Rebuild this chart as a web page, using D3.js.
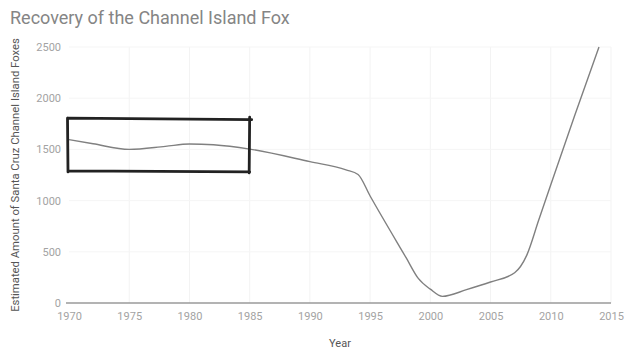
<!DOCTYPE html>
<html>
<head>
<meta charset="utf-8">
<script src="https://cdn.jsdelivr.net/npm/d3@7"></script>
<style>
  html, body { margin: 0; padding: 0; background: #fff; }
  svg { display: block; font-family: Roboto, "Noto Sans", sans-serif; }
</style>
</head>
<body>
<svg id="chart" width="626" height="354"></svg>
<script>
// Estimated Santa Cruz Island fox population by year
const years  = [1970, 1972, 1975, 1978, 1980, 1982, 1985, 1990, 1993, 1994, 1995, 1998, 1999, 2000, 2001, 2003, 2005, 2007, 2008, 2009, 2010, 2012, 2014];
const foxes  = [1595, 1555, 1500, 1530, 1553, 1545, 1503, 1380, 1300, 1255, 1045, 440, 240, 135, 65, 130, 205, 295, 465, 810, 1155, 1835, 2500];

const xTicks = [1970, 1975, 1980, 1985, 1990, 1995, 2000, 2005, 2010, 2015];
const yTicks = [0, 500, 1000, 1500, 2000, 2500];

// Highlighted span: 1970–1985, roughly 1280–1800 foxes
const boxYears  = [1970, 1985];
const boxValues = [1280, 1805];

const titleText = "Recovery of the Channel Island Fox";
const xLabel = "Year";
const yLabel = "Estimated Amount of Santa Cruz Channel Island Foxes";

const svg = d3.select("#chart");

const x = d3.scaleLinear().domain([1970, 2015]).range([69, 611]);
const y = d3.scaleLinear().domain([0, 2500]).range([303, 47]);

// Faint grid
svg.append("g")
  .selectAll("line")
  .data(xTicks.slice(1))
  .join("line")
  .attr("x1", d => x(d)).attr("x2", d => x(d))
  .attr("y1", y(2500)).attr("y2", y(0))
  .attr("stroke", "#f3f3f3").attr("stroke-width", 1);

svg.append("g")
  .selectAll("line")
  .data(yTicks.slice(1))
  .join("line")
  .attr("x1", x(1970)).attr("x2", x(2015))
  .attr("y1", d => y(d)).attr("y2", d => y(d))
  .attr("stroke", "#f5f5f5").attr("stroke-width", 1);

// Baseline
svg.append("line")
  .attr("x1", x(1970) - 3).attr("x2", x(2015))
  .attr("y1", y(0)).attr("y2", y(0))
  .attr("stroke", "#9a9a9a").attr("stroke-width", 1.3);

// Axes (labels only)
const xAxis = d3.axisBottom(x).tickValues(xTicks).tickFormat(d3.format("d")).tickSize(0).tickPadding(9);
const gx = svg.append("g").attr("transform", `translate(0,${y(0)})`).call(xAxis);
gx.select(".domain").remove();
gx.selectAll("text").attr("fill", "#a3a3a3").attr("font-size", 11).attr("font-family", "Roboto, sans-serif");

const yAxis = d3.axisLeft(y).tickValues(yTicks).tickFormat(d3.format("d")).tickSize(0).tickPadding(7);
const gy = svg.append("g").attr("transform", `translate(${x(1970) - 1},0)`).call(yAxis);
gy.select(".domain").remove();
gy.selectAll("text").attr("fill", "#a3a3a3").attr("font-size", 11).attr("font-family", "Roboto, sans-serif");

// Population line
const line = d3.line()
  .x((d, i) => x(years[i]))
  .y(d => y(d))
  .curve(d3.curveMonotoneX);

svg.append("path")
  .datum(foxes)
  .attr("d", line)
  .attr("fill", "none")
  .attr("stroke", "#808080")
  .attr("stroke-width", 1.4)
  .attr("stroke-linejoin", "round");

// Hand-marked box around the 1970–1985 span
const bx0 = x(boxYears[0]) - 1, bx1 = x(boxYears[1]);
const by0 = y(boxValues[1]), by1 = y(boxValues[0]);
const boxPath = [
  `M${bx0},${by0} L${bx1 + 2},${by0 + 1.5}`,
  `M${bx1},${by0 - 1} L${bx1 - 0.5},${by1 + 1}`,
  `M${bx1},${by1} L${bx0},${by1 - 1}`,
  `M${bx0},${by1} L${bx0 - 0.5},${by0}`
].join(" ");
svg.append("path")
  .attr("d", boxPath)
  .attr("fill", "none")
  .attr("stroke", "#222")
  .attr("stroke-width", 2.8)
  .attr("stroke-linecap", "round");

// Title and axis titles
svg.append("text")
  .attr("x", 10).attr("y", 24)
  .attr("font-size", 18)
  .attr("fill", "#858585")
  .text(titleText);

svg.append("text")
  .attr("x", x(1992.5)).attr("y", 347)
  .attr("text-anchor", "middle")
  .attr("font-size", 11)
  .attr("fill", "#555")
  .text(xLabel);

svg.append("text")
  .attr("transform", `translate(19,${y(1250)}) rotate(-90)`)
  .attr("text-anchor", "middle")
  .attr("font-size", 11.3)
  .attr("fill", "#555")
  .text(yLabel);
</script>
</body>
</html>
